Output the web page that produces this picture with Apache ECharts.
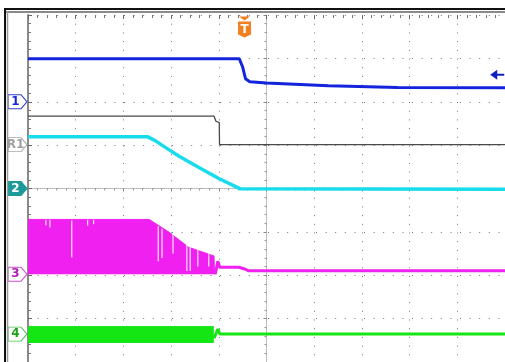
<!DOCTYPE html>
<html><head><meta charset="utf-8">
<script src="https://cdn.jsdelivr.net/npm/echarts@6/dist/echarts.min.js"></script>
<style>html,body{margin:0;padding:0;background:#fff;overflow:hidden}#c{width:505px;height:362px}</style>
</head><body><div id="c"></div>
<script>
// Time in divisions (-5..5), amplitude in divisions (-4..4)
const ch1 = [[-5,2.99],[-0.57,2.99],[-0.50,2.80],[-0.44,2.53],[-0.35,2.46],[0,2.43],[1.3,2.37],[2.75,2.33],[5,2.32]];
const ref1 = [[-5,1.667],[-1.10,1.667],[-1.06,1.55],[-0.99,1.52],[-0.985,1.01],[5,1.01]];
const ch2 = [[-5,1.195],[-2.5,1.195],[-2.333,1.103],[-2.146,0.966],[-1.833,0.743],[-1.417,0.483],[-1.0,0.230],[-0.548,-0.007],[5,-0.02]];
const ch3Band = [[-5,-0.713],[-2.46,-0.713],[-2.04,-1.011],[-1.63,-1.356],[-1.10,-1.556],[-1.09,-1.977]];
const ch3Base = -1.977;
const ch3After = [[-1.08,-1.977],[-1.06,-1.90],[-1.02,-1.678],[-0.98,-1.816],[-0.58,-1.816],[-0.54,-1.77],[-0.44,-1.862],[-0.375,-1.897],[5,-1.897]];
const ch3Gaps = [[-4.625,-0.72,-0.85],[-4.54,-0.72,-0.90],[-4.083,-0.74,-1.59],[-3.75,-0.72,-0.86],[-3.625,-0.72,-0.82],
                 [-2.27,-0.87,-1.68],[-2.19,-0.93,-1.60],[-1.96,-1.05,-1.50],[-1.67,-1.30,-1.90],[-1.60,-1.35,-1.90],[-1.44,-1.42,-1.80],[-1.21,-1.50,-1.80]];
const ch4Band = [[-5,-3.184],[-1.104,-3.184]];
const ch4Base = -3.563;
const ch4After = [[-1.10,-3.45],[-1.06,-3.47],[-1.02,-3.24],[-0.98,-3.356],[5,-3.356]];
const markerNames = ['1','R1','2','3','4'];
const markerLevels = [2.0, 1.01, 0, -1.977, -3.356];
const triggerTime = -0.46;
const triggerLevel = 2.62;

const C1='#1424dc', CR='#4a4a4a', C2='#18dcec', C3='#f020f0', C4='#14e614';
const tag = 'path://M0,0 L13,0 L19,7 L13,14 L0,14 Z';
function chMarker(i, fill, border, text){
  return {coord:[-5, markerLevels[i]], symbol:tag, symbolSize:[19,14], symbolOffset:[-10.5,0],
    itemStyle:{color:fill,borderColor:border,borderWidth:1},
    label:{show:true,position:'inside',formatter:markerNames[i],color:text,fontSize:12,fontWeight:'bold',fontFamily:'DejaVu Sans',offset:[-2,0]}};
}
function mp(arr){return {silent:true,animation:false,data:arr};}

const chart = echarts.init(document.getElementById('c'), null, {renderer:'canvas'});
const dotCol = '#777';
chart.setOption({
  animation:false,
  backgroundColor:'#fff',
  grid:{left:28, top:15, width:480, height:348},
  xAxis:[
    {type:'value',min:-5,max:5,interval:1,
     axisLine:{show:true,onZero:true,lineStyle:{color:'#b0b0b0',type:'dotted',width:1}},
     axisTick:{show:true,length:3,lineStyle:{color:'#888'}},
     minorTick:{show:true,splitNumber:5,length:2,lineStyle:{color:'#999'}},
     axisLabel:{show:false},
     splitLine:{show:true,lineStyle:{color:dotCol,width:1,type:[1,7.7]}}},
    {type:'value',min:-5,max:5,interval:1,position:'top',
     axisLine:{show:false,onZero:false},
     axisTick:{show:true,inside:true,length:4,lineStyle:{color:'#666'}},
     minorTick:{show:true,splitNumber:5,length:3,lineStyle:{color:'#777'}},
     axisLabel:{show:false},splitLine:{show:false}}
  ],
  yAxis:[
    {type:'value',min:-4,max:4,interval:1,
     axisLine:{show:true,onZero:true,lineStyle:{color:'#b0b0b0',type:'dotted',width:1}},
     axisTick:{show:true,length:3,lineStyle:{color:'#888'}},
     minorTick:{show:true,splitNumber:5,length:2,lineStyle:{color:'#999'}},
     axisLabel:{show:false},
     splitLine:{show:true,lineStyle:{color:dotCol,width:1,type:[1,8.6]}}},
    {type:'value',min:-4,max:4,interval:1,position:'left',
     axisLine:{show:true,onZero:false,lineStyle:{color:'#8a8a8a',width:2}},
     axisTick:{show:true,inside:true,length:4,lineStyle:{color:'#666'}},
     minorTick:{show:true,splitNumber:5,length:3,lineStyle:{color:'#777'}},
     axisLabel:{show:false},splitLine:{show:false}}
  ],
  graphic:[
    {type:'line',shape:{x1:4,y1:9,x2:505,y2:9},style:{stroke:'#111',lineWidth:2},z:100},
    {type:'line',shape:{x1:6,y1:12,x2:505,y2:12},style:{stroke:'#8a8a8a',lineWidth:2},z:100},
    {type:'line',shape:{x1:5,y1:8,x2:5,y2:362},style:{stroke:'#111',lineWidth:2},z:100},
    {type:'line',shape:{x1:7.5,y1:11,x2:7.5,y2:362},style:{stroke:'#9a9a9a',lineWidth:1.5},z:100}
  ],
  series:[
    {name:'R1',type:'line',data:ref1,symbol:'none',lineStyle:{color:CR,width:1.3},z:3,
     markPoint:mp([chMarker(1,'#fff','#a8a8a8','#a0a0a0')])},
    {name:'CH1',type:'line',data:ch1,symbol:'none',lineStyle:{color:C1,width:3},z:4,
     markPoint:mp([chMarker(0,'#fff','#3040d0',C1),
       {coord:[4.9,triggerLevel],symbol:'path://M0,5 L7,0 L7,4 L14,4 L14,6 L7,6 L7,10 Z',symbolSize:[14,10],symbolOffset:[-3,0],itemStyle:{color:'#1020c0'}}])},
    {name:'CH2',type:'line',data:ch2,symbol:'none',lineStyle:{color:C2,width:3.5},z:4,
     markPoint:mp([chMarker(2,'#1a9a9a','#1a9a9a','#fff'),
       {coord:[triggerTime,4],symbol:'path://M1,0 L12,0 L6.5,4 Z M0,5 L13,5 L13,18 L6.5,21 L0,18 Z',symbolSize:[13,21],symbolOffset:[0,12],
        itemStyle:{color:'#f08020'},label:{show:true,position:'inside',formatter:'T',color:'#fff',fontSize:12,fontWeight:'bold',fontFamily:'DejaVu Sans',offset:[0,3]}}])},
    {name:'CH3 band',type:'line',data:ch3Band,symbol:'none',lineStyle:{color:C3,width:1},
     areaStyle:{color:C3,opacity:1,origin:ch3Base},z:2,
     markPoint:mp([chMarker(3,'#fff','#d050d0','#b020b0')])},
    {name:'CH3 gaps',type:'custom',data:ch3Gaps,z:3,silent:true,
     renderItem:function(params,api){
       const p1=api.coord([api.value(0),api.value(1)]);
       const p2=api.coord([api.value(0),api.value(2)]);
       return {type:'line',shape:{x1:p1[0],y1:p1[1],x2:p2[0],y2:p2[1]},style:{stroke:'#fbe4fb',lineWidth:1.2}};
     }},
    {name:'CH3',type:'line',data:ch3After,symbol:'none',lineStyle:{color:C3,width:3},z:2},
    {name:'CH4 band',type:'line',data:ch4Band,symbol:'none',lineStyle:{color:C4,width:1},
     areaStyle:{color:C4,opacity:1,origin:ch4Base},z:2,
     markPoint:mp([chMarker(4,'#fff','#50c050','#20a020')])},
    {name:'CH4',type:'line',data:ch4After,symbol:'none',lineStyle:{color:C4,width:3},z:2}
  ]
});
</script></body></html>
